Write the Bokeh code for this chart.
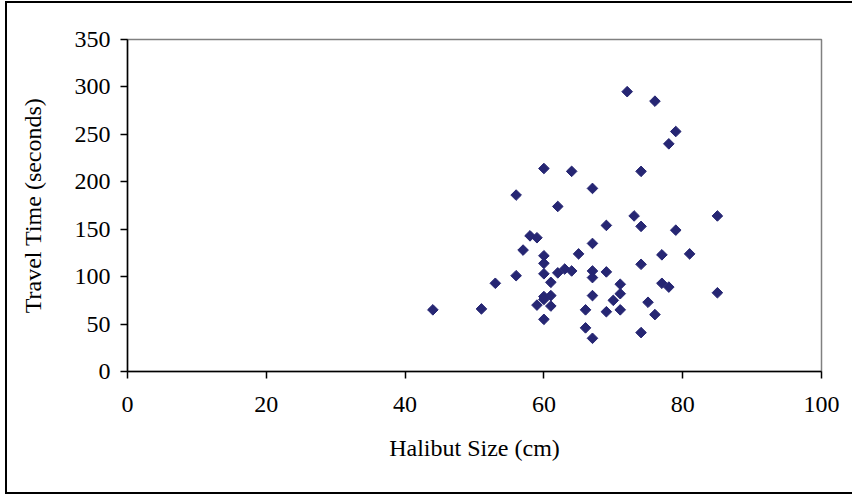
import numpy as np
from bokeh.plotting import figure
from bokeh.models import ColumnDataSource, FixedTicker, Range1d
from bokeh.embed import file_html
from bokeh.resources import INLINE

# Halibut size (cm) and travel time (seconds)
halibut_size = [44, 51, 53, 56, 56, 57, 58, 59, 59, 60, 60, 60, 60, 60, 60, 60,
                61, 61, 61, 62, 62, 63, 64, 64, 65, 66, 66, 67, 67, 67, 67, 67,
                67, 69, 69, 69, 70, 71, 71, 71, 72, 73, 74, 74, 74, 74, 75, 76,
                76, 77, 77, 78, 78, 79, 79, 81, 85, 85]
travel_time = [65, 66, 93, 186, 101, 128, 143, 141, 70, 214, 122, 114, 103, 79, 76, 55,
               94, 80, 69, 174, 104, 108, 211, 106, 124, 65, 46, 193, 135, 106, 99, 80,
               35, 154, 105, 63, 75, 92, 82, 65, 295, 164, 211, 153, 113, 41, 73, 285,
               60, 123, 93, 240, 89, 253, 149, 124, 164, 83]

x_ticks = [0, 20, 40, 60, 80, 100]
y_ticks = [0, 50, 100, 150, 200, 250, 300, 350]

FONT = "Liberation Serif"

src = ColumnDataSource(data=dict(x=halibut_size, y=travel_time))

p = figure(width=845, height=489, output_backend="svg", toolbar_location=None,
           x_range=Range1d(0, 100), y_range=Range1d(0, 350),
           min_border_left=120, min_border_right=33,
           min_border_top=36, min_border_bottom=125)

p.styles = {"border-left": "2px solid black", "border-top": "2px solid black",
            "border-bottom": "2px solid black", "border-right": "0px",
            "box-sizing": "content-box",
            "margin-left": "5px", "margin-top": "1px"}

p.scatter("x", "y", source=src, marker="square", angle=np.pi / 4, size=7.5,
          fill_color="#262673", line_color="#262673")

p.xgrid.visible = False
p.ygrid.visible = False
p.outline_line_color = "#808080"
p.outline_line_width = 1.5

for ax in (p.xaxis[0], p.yaxis[0]):
    ax.axis_line_color = "black"
    ax.axis_line_width = 1.5
    ax.major_tick_line_color = "black"
    ax.major_tick_line_width = 1.5
    ax.major_tick_out = 7
    ax.major_tick_in = 0
    ax.minor_tick_line_color = None
    ax.major_label_text_font = FONT
    ax.major_label_text_font_size = "24px"
    ax.major_label_text_color = "black"
    ax.axis_label_text_font = FONT
    ax.axis_label_text_font_size = "24px"
    ax.axis_label_text_font_style = "normal"
    ax.axis_label_text_color = "black"

p.xaxis.ticker = FixedTicker(ticks=x_ticks)
p.yaxis.ticker = FixedTicker(ticks=y_ticks)
p.xaxis.axis_label = "Halibut Size (cm)"
p.yaxis.axis_label = "Travel Time (seconds)"
p.xaxis.major_label_standoff = 18
p.xaxis.axis_label_standoff = 20
p.yaxis.major_label_standoff = 10
p.yaxis.axis_label_standoff = 26

open("out.html", "w").write(file_html(p, INLINE))
